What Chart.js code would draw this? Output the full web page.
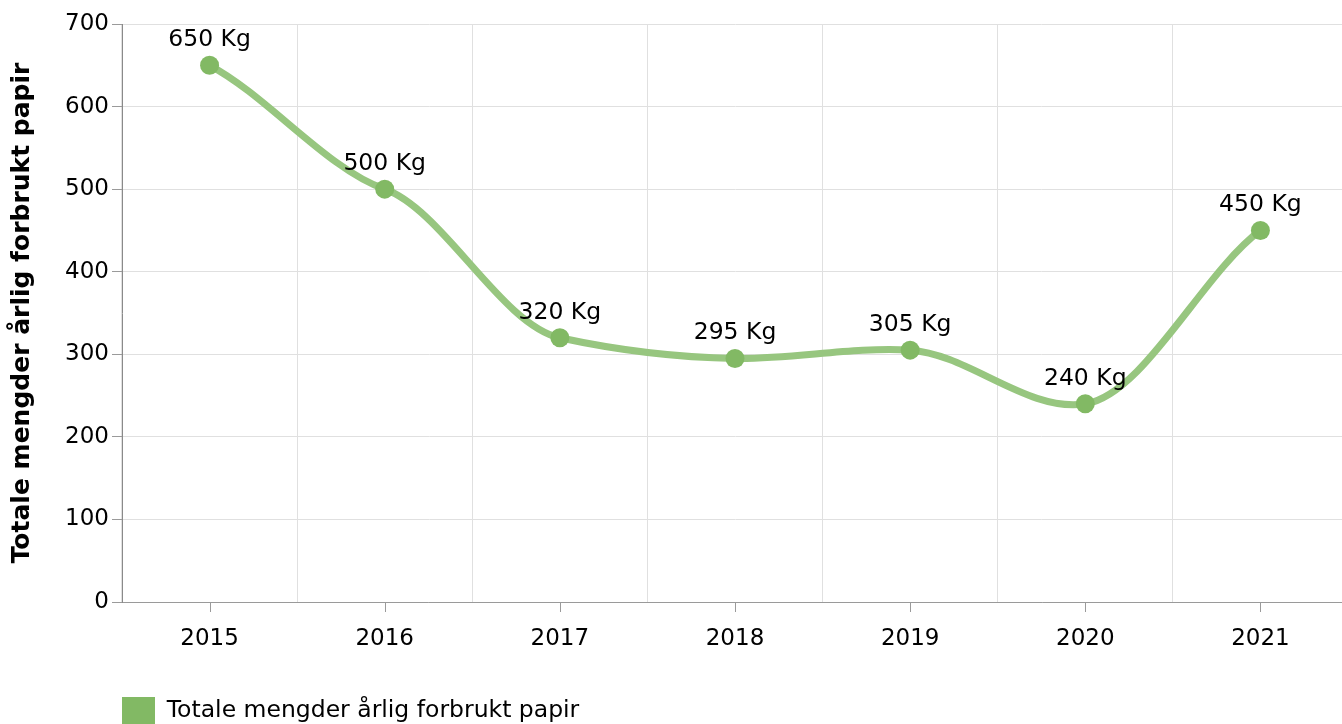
<!DOCTYPE html>
<html>
<head>
<meta charset="utf-8">
<script src="https://cdn.jsdelivr.net/npm/chart.js@4.4.0/dist/chart.umd.min.js"></script>
<style>
  html, body { margin: 0; padding: 0; overflow: hidden; background: #fff; }
  canvas { display: block; }
</style>
</head>
<body>
<canvas id="paperChart" width="1348" height="735"></canvas>
<script>
const years = ["2015", "2016", "2017", "2018", "2019", "2020", "2021"];
const paperKg = [650, 500, 320, 295, 305, 240, 450];
const seriesName = "Totale mengder årlig forbrukt papir";
const unit = "Kg";
const yMin = 0;
const yMax = 700;
const yStep = 100;

const font = "'DejaVu Sans', Verdana, sans-serif";
const textColor = "#000";

// glattere kurve: flatere tangenter enn Chart.js sin egen tension
const smoothCurve = {
  id: "smoothCurve",
  beforeDatasetDraw(chart, args) {
    const meta = args.meta;
    meta.dataset.updateControlPoints(chart.chartArea, "x");
    const pts = meta.data;
    const n = pts.length;
    const slope = pts.map((p, i) => {
      if (i === 0) return 0.75 * (pts[1].y - p.y) / (pts[1].x - p.x);
      if (i === n - 1) return 0.75 * (p.y - pts[i - 1].y) / (p.x - pts[i - 1].x);
      return 0.45 * (pts[i + 1].y - pts[i - 1].y) / (pts[i + 1].x - pts[i - 1].x);
    });
    pts.forEach((p, i) => {
      if (i > 0) {
        const h = (p.x - pts[i - 1].x) / 3;
        p.cp1x = p.x - h;
        p.cp1y = p.y - slope[i] * h;
      }
      if (i < n - 1) {
        const h = (pts[i + 1].x - p.x) / 3;
        p.cp2x = p.x + h;
        p.cp2y = p.y + slope[i] * h;
      }
    });
  },
};

// etiketter over punktene
const valueLabels = {
  id: "valueLabels",
  afterDatasetsDraw(chart) {
    const ctx = chart.ctx;
    const meta = chart.getDatasetMeta(0);
    ctx.save();
    ctx.font = "23.5px " + font;
    ctx.fillStyle = textColor;
    ctx.textAlign = "center";
    ctx.textBaseline = "alphabetic";
    meta.data.forEach((pt, i) => {
      ctx.fillText(paperKg[i] + " " + unit, pt.x, pt.y - 19);
    });
    ctx.restore();
  },
};

// små streker under x-aksen midt på hver kategori
const xTickMarks = {
  id: "xTickMarks",
  afterDraw(chart) {
    const x = chart.scales.x;
    const ctx = chart.ctx;
    ctx.save();
    ctx.strokeStyle = "#9a9a9a";
    ctx.lineWidth = 1;
    x.ticks.forEach((_, i) => {
      const px = Math.round(x.getPixelForTick(i)) + 0.5;
      ctx.beginPath();
      ctx.moveTo(px, x.top);
      ctx.lineTo(px, x.top + 10);
      ctx.stroke();
    });
    ctx.restore();
  },
};

// flytt legenden slik at den starter ved y-aksen
const legendShift = {
  id: "legendShift",
  afterLayout(chart) {
    chart.legend.left = chart.chartArea.left - 10;
  },
};

new Chart(document.getElementById("paperChart"), {
  type: "line",
  data: {
    labels: years,
    datasets: [
      {
        label: seriesName,
        data: paperKg,
        borderColor: "#97c67f",
        backgroundColor: "#82b964",
        borderWidth: 7,
        tension: 0.4,
        pointRadius: 9.5,
        pointHoverRadius: 9.5,
        pointBackgroundColor: "#82b964",
        pointBorderWidth: 0,
        fill: false,
      },
    ],
  },
  options: {
    responsive: false,
    animation: false,
    devicePixelRatio: 1,
    layout: { autoPadding: false, padding: { top: 24, left: 0, right: 0, bottom: 0 } },
    plugins: {
      tooltip: { enabled: false },
      legend: {
        position: "bottom",
        align: "start",
        labels: {
          boxWidth: 33,
          boxHeight: 28,
          padding: 10,
          color: textColor,
          font: { family: font, size: 23.5 },
          generateLabels: (chart) => [
            {
              text: seriesName,
              fillStyle: "#82b964",
              strokeStyle: "#82b964",
              lineWidth: 0,
              datasetIndex: 0,
            },
          ],
        },
      },
    },
    scales: {
      x: {
        offset: true,
        grid: {
          offset: true,
          color: "#e0e0e0",
          drawTicks: false,
        },
        border: { color: "#9a9a9a" },
        ticks: {
          color: textColor,
          font: { family: font, size: 23 },
          padding: 23,
          maxRotation: 0,
        },
        afterFit(scale) {
          scale.height = 85;
          scale.paddingLeft = 0;
          scale.paddingRight = 0;
        },
      },
      y: {
        min: yMin,
        max: yMax,
        ticks: {
          stepSize: yStep,
          color: textColor,
          font: { family: font, size: 23 },
          padding: 3,
        },
        grid: {
          color: "#e0e0e0",
          tickColor: "#9a9a9a",
          tickLength: 10,
        },
        border: { color: "#8a8a8a" },
        title: {
          display: true,
          text: seriesName,
          color: textColor,
          font: { family: font, size: 25, weight: "bold" },
          padding: { top: 7, bottom: 0 },
        },
        afterFit(scale) {
          scale.width = 122;
        },
      },
    },
  },
  plugins: [smoothCurve, valueLabels, xTickMarks, legendShift],
});
</script>
</body>
</html>
